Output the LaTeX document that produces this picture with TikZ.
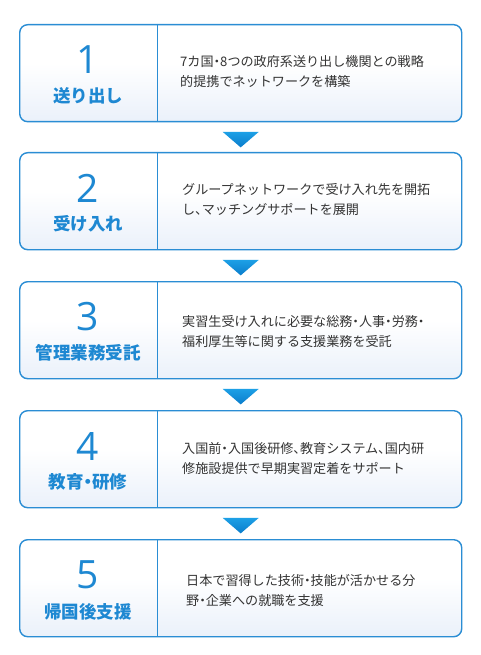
\documentclass[tikz,border=0pt]{standalone}
\usepackage{fontspec}
\newfontfamily\jp{Noto Sans CJK JP}
\newfontfamily\jpp[RawFeature=+palt]{Noto Sans CJK JP}
\newfontfamily\numfont{Open Sans}
\newcommand\pd{{\jpp ・}}
\newcommand\pc{{\jpp 、}}
\definecolor{boxblue}{HTML}{2A8DD4}
\definecolor{numblue}{HTML}{1E88D2}
\definecolor{boxbot}{HTML}{DCE7F7}
\definecolor{txtgray}{HTML}{333333}
\definecolor{arrtop}{HTML}{1DA0E6}
\definecolor{arrbot}{HTML}{0A7CCB}
\pgfdeclareverticalshading{boxshade}{100bp}{color(0bp)=(boxbot); color(20bp)=(boxbot!70!white); color(55bp)=(white); color(100bp)=(white)}
\tikzset{
  stepbox/.style={draw=boxblue, line width=1.4pt, rounded corners=8pt, shading=boxshade,
    minimum width=442pt, minimum height=97pt, inner sep=0pt, anchor=north west},
  divline/.style={draw=boxblue, line width=1pt},
  numtxt/.style={text=numblue, font=\numfont\fontsize{39}{39}\selectfont, inner sep=0pt},
  labtxt/.style={text=numblue, font=\jp\bfseries\fontsize{17.5}{20}\selectfont, inner sep=0pt},
  bodytxt/.style={text=txtgray, font=\jp\fontsize{13.1}{20}\selectfont, align=left, inner sep=0pt, anchor=west},
  arr/.style={top color=arrtop, bottom color=arrbot, draw=none}
}
\begin{document}
\begin{tikzpicture}[x=1pt,y=-1pt]
\useasboundingbox[fill=white] (0,0) rectangle (480,655);
% boxes
\node[stepbox] (box1) at (19,24) {};
\node[stepbox] (box2) at (19,152) {};
\node[stepbox] (box3) at (19,281) {};
\node[stepbox] (box4) at (19,410) {};
\node[stepbox] (box5) at (19,539) {};
\foreach \i in {1,...,5}{
  \draw[divline] ([xshift=138pt]box\i.north west) -- ([xshift=138pt]box\i.south west);
}
% arrows
\foreach \i in {1,...,4}{
  \shade[arr] ([shift={(-18pt,-9.5pt)}]box\i.south) -- ([shift={(18pt,-9.5pt)}]box\i.south) -- ([shift={(0pt,-25pt)}]box\i.south) -- cycle;
}
% numbers and labels
\node[numtxt] (n1) at (88,60) {1};
\node[labtxt] (l1) at (88,95.5) {送り出し};
\node[numtxt] (n2) at (88,188) {2};
\node[labtxt] (l2) at (88,223.5) {受け入れ};
\node[numtxt] (n3) at (88,317) {3};
\node[labtxt] (l3) at (88,353) {管理業務受託};
\node[numtxt] (n4) at (88,446) {4};
\node[labtxt] (l4) at (88,482) {教育\pd 研修};
\node[numtxt] (n5) at (88,575) {5};
\node[labtxt] (l5) at (88,611.5) {帰国後支援};
% body text
\node[bodytxt] (t1) at (180,71.7) {7カ国\pd 8つの政府系送り出し機関との戦略\\的提携でネットワークを構築};
\node[bodytxt] (t2) at (182,200) {グループネットワークで受け入れ先を開拓\\し\pc マッチングサポートを展開};
\node[bodytxt] (t3) at (182,331.7) {実習生受け入れに必要な総務\pd 人事\pd 労務\pd\\福利厚生等に関する支援業務を受託};
\node[bodytxt] (t4) at (182,458.3) {入国前\pd 入国後研修\pc 教育システム\pc 国内研\\修施設提供で早期実習定着をサポート};
\node[bodytxt] (t5) at (186,590) {日本で習得した技術\pd 技能が活かせる分\\野\pd 企業への就職を支援};
\end{tikzpicture}
\end{document}
